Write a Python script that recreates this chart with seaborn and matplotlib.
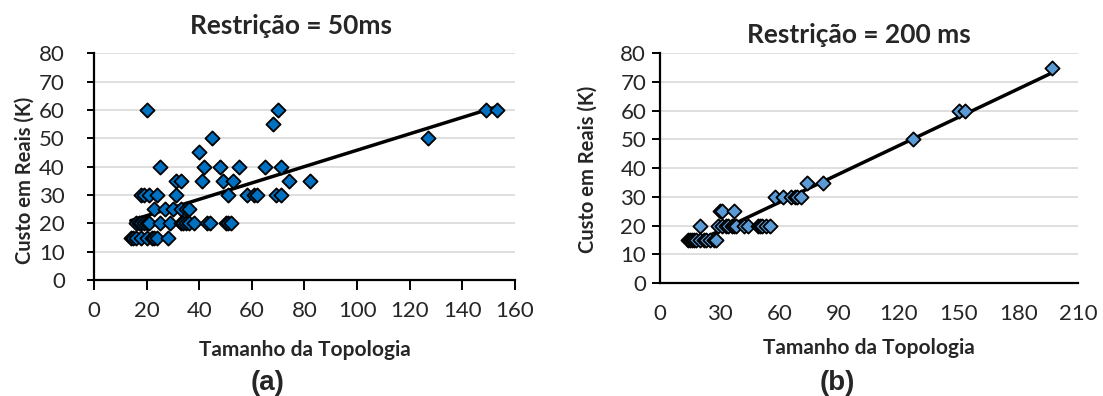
import matplotlib
matplotlib.use("Agg")
import pandas as pd
import matplotlib.pyplot as plt
import seaborn as sns

# ---------------------------------------------------------------
# data (topology size vs cost in K reais)
# (a) Restricao = 50ms
x_50 = [20, 70, 149, 153,
        68,
        45, 127,
        40,
        25, 42, 48, 55, 65, 71,
        31, 33, 41, 49, 53, 74, 82,
        18, 19, 21, 24, 31, 51, 58, 61, 62, 69, 71,
        23, 27, 30, 33, 35, 36,
        16, 17, 18, 19, 20, 21, 25, 29, 33, 34, 35, 36, 38, 43, 44, 50, 51, 52,
        14, 15, 16, 18, 20, 22, 23, 24, 28]
y_50 = [60, 60, 60, 60,
        55,
        50, 50,
        45,
        40, 40, 40, 40, 40, 40,
        35, 35, 35, 35, 35, 35, 35,
        30, 30, 30, 30, 30, 30, 30, 30, 30, 30, 30,
        25, 25, 25, 25, 25, 25,
        20, 20, 20, 20, 20, 20, 20, 20, 20, 20, 20, 20, 20, 20, 20, 20, 20, 20,
        15, 15, 15, 15, 15, 15, 15, 15, 15]

# (b) Restricao = 200 ms
x_200 = [197,
         150, 153,
         127,
         74, 82,
         58, 62, 66, 68, 69, 71,
         30, 31, 37,
         20, 29, 31, 33, 34, 36, 37, 38, 42, 44, 49, 50, 51, 53, 55,
         14, 15, 16, 17, 18, 20, 22, 23, 25, 27, 28]
y_200 = [75,
         60, 60,
         50,
         35, 35,
         30, 30, 30, 30, 30, 30,
         25, 25, 25,
         20, 20, 20, 20, 20, 20, 20, 20, 20, 20, 20, 20, 20, 20, 20,
         15, 15, 15, 15, 15, 15, 15, 15, 15, 15, 15]

titles = ["Restrição = 50ms", "Restrição = 200 ms"]
x_label = "Tamanho da Topologia"
y_label = "Custo em Reais (K)"
panel_tags = ["(a)", "(b)"]

# ---------------------------------------------------------------
sns.set_theme(style="white")
plt.rcParams['font.family'] = ['Lato', 'DejaVu Sans']

fig = plt.figure(figsize=(11.03, 3.96), dpi=100)
ax1 = fig.add_axes([0.0852, 0.2929, 0.3817, 0.5725])
ax2 = fig.add_axes([0.5984, 0.2854, 0.3790, 0.5798])


def draw_panel(ax, xs, ys, color, xmax, xstep):
    df = pd.DataFrame({"x": xs, "y": ys})
    sns.regplot(data=df, x="x", y="y", ax=ax, scatter=False, ci=None,
                truncate=True, line_kws=dict(color="black", lw=2.5, zorder=2))
    sns.scatterplot(data=df, x="x", y="y", ax=ax, marker="D", s=52,
                    color=color, edgecolor="black", linewidth=1.3, zorder=3)
    ax.set_xlim(0, xmax)
    ax.set_ylim(0, 80)
    ax.set_xticks(range(0, xmax + 1, xstep))
    ax.set_yticks(range(0, 81, 10))
    ax.yaxis.grid(True, color="#D9D9D9", lw=1.2)
    ax.xaxis.grid(False)
    ax.set_axisbelow(True)
    for side in ["top", "right"]:
        ax.spines[side].set_visible(False)
    for side in ["left", "bottom"]:
        ax.spines[side].set_color("black")
        ax.spines[side].set_linewidth(1.6)
    ax.set_xlabel(x_label, fontsize=15, fontweight="bold", va="center")
    ax.set_ylabel(y_label, fontsize=14.5, fontweight="bold", va="center")


draw_panel(ax1, x_50, y_50, "#0070C0", 160, 20)
draw_panel(ax2, x_200, y_200, "#5B9BD5", 210, 30)

ax1.tick_params(axis="y", direction="out", length=5, width=1.4, pad=16,
                labelsize=16, color="black", left=True)
ax1.tick_params(axis="x", direction="out", length=7, width=1.4, pad=8,
                labelsize=16, color="black", bottom=True)
ax2.tick_params(axis="y", direction="out", length=6, width=1.4, pad=4,
                labelsize=16, color="black", left=True)
ax2.tick_params(axis="x", length=0, pad=15, labelsize=16)

ax1.xaxis.set_label_coords(0.5, -0.309)
ax1.yaxis.set_label_coords(-0.164, 0.441)
ax2.xaxis.set_label_coords(0.5, -0.283)
ax2.yaxis.set_label_coords(-0.173, 0.496)

fig.text(291 / 1103, 1 - 26 / 396, titles[0], ha="center", va="center",
         fontsize=19, fontweight="bold")
fig.text(859 / 1103, 1 - 35 / 396, titles[1], ha="center", va="center",
         fontsize=19, fontweight="bold")

fig.text(268 / 1103, 1 - 383 / 396, panel_tags[0], ha="center", va="center",
         fontsize=20, fontweight="bold", family="Liberation Sans")
fig.text(837 / 1103, 1 - 383 / 396, panel_tags[1], ha="center", va="center",
         fontsize=20, fontweight="bold", family="Liberation Sans")

fig.savefig("out.png", dpi=100)
